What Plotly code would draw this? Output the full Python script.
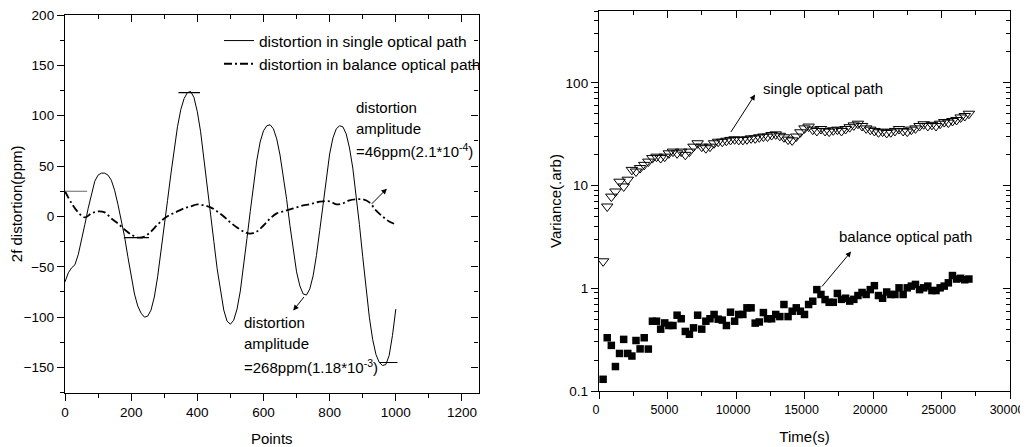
import plotly.graph_objects as go

# ---------------- Left panel data ----------------
points_x = list(range(0, 1001, 10))
single_path = [-65, -56, -51, -48, -38, -24, -8, 8, 23, 35,
               41, 43, 43, 41, 36, 26, 12, -3, -20, -40,
               -60, -77, -89, -96, -100, -99, -93, -80, -60, -36,
               -10, 16, 42, 67, 89, 106, 117, 123, 124, 118,
               104, 84, 58, 30, 2, -25, -52, -75, -93, -104,
               -107, -103, -92, -74, -50, -22, 5, 32, 56, 74,
               85, 90, 91, 87, 77, 61, 41, 17, -9, -34,
               -55, -69, -77, -78, -72, -59, -39, -14, 13, 40,
               62, 78, 87, 90, 89, 82, 68, 48, 22, -8,
               -40, -72, -100, -122, -137, -145, -148, -147, -138, -118,
               -92]

balance_x = list(range(0, 1001, 20))
balance_path = [25, 13, 4, -1, 3, 5, 4, -2, -7, -13,
                -18, -21, -20, -15, -8, -2, 2, 5, 8, 10,
                12, 11, 9, 5, 0, -6, -11, -15, -17, -15,
                -9, -2, 3, 5, 7, 9, 11, 12, 14, 15,
                15, 12, 13, 16, 17, 17, 14, 6, 0, -5,
                -8]

# amplitude marker segments (start x, end x, level)
amp_x0 = [0, 178, 343, 950]
amp_x1 = [67, 254, 408, 1005]
amp_y = [25, -21, 123, -145]
amp_colors = ["#666666", "black", "black", "black"]

# ---------------- Right panel data ----------------
time_s = list(range(300, 27001, 300))
single_var = [1.83, 6.25, 7.8, 8.75, 10.9, 9.8, 11.4, 14.2, 13.7, 14.8,
              15.9, 17.1, 18.5, 19.1, 18.5, 19.1, 20.6, 21.4, 20.6, 21.4,
              19.9, 21.4, 23.9, 25.8, 23.9, 23.1, 23.9, 25.8, 26.7, 26.7,
              27.3, 27.8, 28.2, 27.8, 27.8, 28.2, 28.8, 28.8, 29.5, 30,
              30, 31, 31.5, 30.5, 29.5, 28, 27.5, 30, 33, 36,
              37.5, 35, 34, 35.5, 34, 33.5, 34.5, 35, 34, 35.5,
              37, 38.5, 40, 38, 36, 35, 34, 33, 33.5, 32.5,
              33, 34, 35.5, 34, 33.5, 35, 36, 38, 39.5, 38,
              39, 38, 40, 41.5, 41, 42.5, 43.5, 46, 47.5, 50]
balance_var = [0.13, 0.33, 0.278, 0.173, 0.232, 0.318, 0.232, 0.219, 0.31, 0.257,
               0.33, 0.256, 0.478, 0.478, 0.40, 0.46, 0.434, 0.434, 0.547, 0.505,
               0.38, 0.357, 0.412, 0.547, 0.40, 0.478, 0.505, 0.556, 0.50, 0.49,
               0.434, 0.585, 0.478, 0.556, 0.556, 0.645, 0.645, 0.458, 0.47, 0.58,
               0.505, 0.505, 0.556, 0.53, 0.695, 0.53, 0.598, 0.645, 0.598, 0.556,
               0.695, 0.748, 0.97, 0.87, 0.776, 0.73, 0.73, 0.89, 0.78, 0.80,
               0.75, 0.78, 0.85, 0.91, 0.87, 0.97, 1.06, 0.85, 0.80, 0.92,
               0.87, 0.87, 1.01, 0.87, 1.01, 1.05, 1.09, 0.97, 1.01, 1.05,
               0.95, 0.95, 1.01, 1.05, 1.13, 1.33, 1.23, 1.25, 1.21, 1.23]

FONT = "Arial, Liberation Sans, sans-serif"

# page has an 8px body margin; figure size and domains compensate for it
OFF = 8
W, H = 1020, 439
def fx(p):
    return (p - OFF) / W
def fy(p):
    return 1 - (p - OFF) / H

fig = go.Figure()

fig.add_trace(go.Scatter(x=points_x, y=single_path, mode="lines",
                         line=dict(color="black", width=1),
                         name="distortion in single optical path",
                         xaxis="x", yaxis="y"))
fig.add_trace(go.Scatter(x=balance_x, y=balance_path, mode="lines",
                         line=dict(color="black", width=1.8, dash="8px,3px,2px,3px", shape="spline"),
                         name="distortion in balance optical path",
                         xaxis="x", yaxis="y"))
for x0, x1, yv, c in zip(amp_x0, amp_x1, amp_y, amp_colors):
    fig.add_trace(go.Scatter(x=[x0, x1], y=[yv, yv], mode="lines",
                             line=dict(color=c, width=1.2), showlegend=False,
                             hoverinfo="skip", xaxis="x", yaxis="y"))

fig.add_trace(go.Scatter(x=time_s, y=single_var, mode="markers",
                         marker=dict(symbol="triangle-down-open", size=10,
                                     color="black", line=dict(width=1)),
                         showlegend=False, xaxis="x2", yaxis="y2"))
fig.add_trace(go.Scatter(x=time_s, y=balance_var, mode="markers",
                         marker=dict(symbol="square", size=7.5, color="black"),
                         showlegend=False, xaxis="x2", yaxis="y2"))

# empty traces to host mirrored inside-tick axes
fig.add_trace(go.Scatter(x=[], y=[], xaxis="x3", yaxis="y3", showlegend=False))
fig.add_trace(go.Scatter(x=[], y=[], xaxis="x4", yaxis="y4", showlegend=False))

axis_common = dict(showgrid=False, zeroline=False, showline=True, linecolor="black",
                   linewidth=1.3, ticks="outside", ticklen=7, tickwidth=1.2,
                   tickcolor="black", automargin=False, ticklabeloverflow="allow")
tickfont_std = dict(family=FONT, size=13.5, color="black")
mirror_common = dict(showgrid=False, zeroline=False, showline=True, linecolor="black",
                     linewidth=1.3, ticks="inside", ticklen=7, tickwidth=1.2,
                     tickcolor="black", showticklabels=False, automargin=False)

LX = [fx(65), fx(478.5)]
LY = [fy(392.7), fy(15)]
RX = [fx(599), fx(1010)]
RY = [fy(391), fy(11)]

fig.update_layout(
    width=W, height=H, margin=dict(l=0, r=0, t=0, b=0, autoexpand=False),
    paper_bgcolor="white", plot_bgcolor="white",
    font=dict(family=FONT, size=13, color="black"),
    xaxis=dict(domain=LX, range=[0, 1250], dtick=200, tick0=0, anchor="y",
               tickfont=tickfont_std,
               minor=dict(dtick=100, ticks="outside", ticklen=4, tickcolor="black"),
               title=dict(text="Points", font=dict(size=15), standoff=15),
               **axis_common),
    yaxis=dict(domain=LY, range=[-175, 200], dtick=50, tick0=0, anchor="x",
               tickfont=tickfont_std,
               minor=dict(dtick=25, ticks="outside", ticklen=4, tickcolor="black"),
               title=dict(text="2f distortion(ppm)", font=dict(size=15), standoff=1),
               **axis_common),
    xaxis3=dict(overlaying="x", side="top", anchor="y", range=[0, 1250], dtick=200, tick0=0,
                minor=dict(dtick=100, ticks="inside", ticklen=4, tickcolor="black"),
                **mirror_common),
    yaxis3=dict(overlaying="y", side="right", anchor="x", range=[-175, 200], dtick=50, tick0=0,
                minor=dict(dtick=25, ticks="inside", ticklen=4, tickcolor="black"),
                **mirror_common),
    xaxis2=dict(domain=RX, range=[0, 30000], dtick=5000, tick0=0, anchor="y2",
                tickformat="d", ticklabelshift=-3,
                tickfont=dict(family=FONT, size=12.5, color="black"),
                minor=dict(dtick=2500, ticks="outside", ticklen=4, tickcolor="black"),
                title=dict(text="Time(s)", font=dict(size=15), standoff=15),
                **axis_common),
    yaxis2=dict(domain=RY, type="log", range=[-1, 2.699], dtick=1, anchor="x2",
                tickfont=tickfont_std,
                minor=dict(dtick="D1", ticks="outside", ticklen=4, tickcolor="black"),
                title=dict(text="Variance(.arb)", font=dict(size=15), standoff=0),
                **axis_common),
    xaxis4=dict(overlaying="x2", side="top", anchor="y2", range=[0, 30000], dtick=5000, tick0=0,
                minor=dict(dtick=2500, ticks="inside", ticklen=4, tickcolor="black"),
                **mirror_common),
    yaxis4=dict(overlaying="y2", side="right", anchor="x2", type="log", range=[-1, 2.699], dtick=1,
                minor=dict(dtick="D1", ticks="inside", ticklen=4, tickcolor="black"),
                **mirror_common),
    legend=dict(x=fx(219), y=fy(24), xanchor="left", yanchor="top",
                bgcolor="rgba(0,0,0,0)", font=dict(family=FONT, size=15.5),
                tracegroupgap=0, itemwidth=30),
    showlegend=True,
)

ann = []
def txt(x, y, s, xref="x", yref="y"):
    ann.append(dict(x=x, y=y, xref=xref, yref=yref, text=s, showarrow=False,
                    xanchor="left", yanchor="middle", font=dict(family=FONT, size=15)))

txt(874, 108.5, "distortion")
txt(874, 87.6, "amplitude")
txt(874, 65.7, "=46ppm(2.1*10<sup>-4</sup>)")
txt(535, -105.4, "distortion")
txt(535, -126.3, "amplitude")
txt(535, -149.2, "=268ppm(1.18*10<sup>-3</sup>)")
txt(11800, 1.947, "single optical path", "x2", "y2")
txt(17350, 0.503, "balance optical path", "x2", "y2")

def arrow(x, y, axv, ayv, xref="x", yref="y"):
    ann.append(dict(x=x, y=y, ax=axv, ay=ayv, xref=xref, yref=yref, axref=xref, ayref=yref,
                    text="", showarrow=True, arrowhead=2, arrowsize=1.1, arrowwidth=1,
                    arrowcolor="black"))

arrow(973, 27.6, 922.6, 11)
arrow(690, -93.4, 726, -78.5)
arrow(11390, 1.885, 9560, 1.507, "x2", "y2")
arrow(18400, 0.357, 16180, 0.002, "x2", "y2")

fig.update_layout(annotations=ann)

fig.write_html("out.html")
